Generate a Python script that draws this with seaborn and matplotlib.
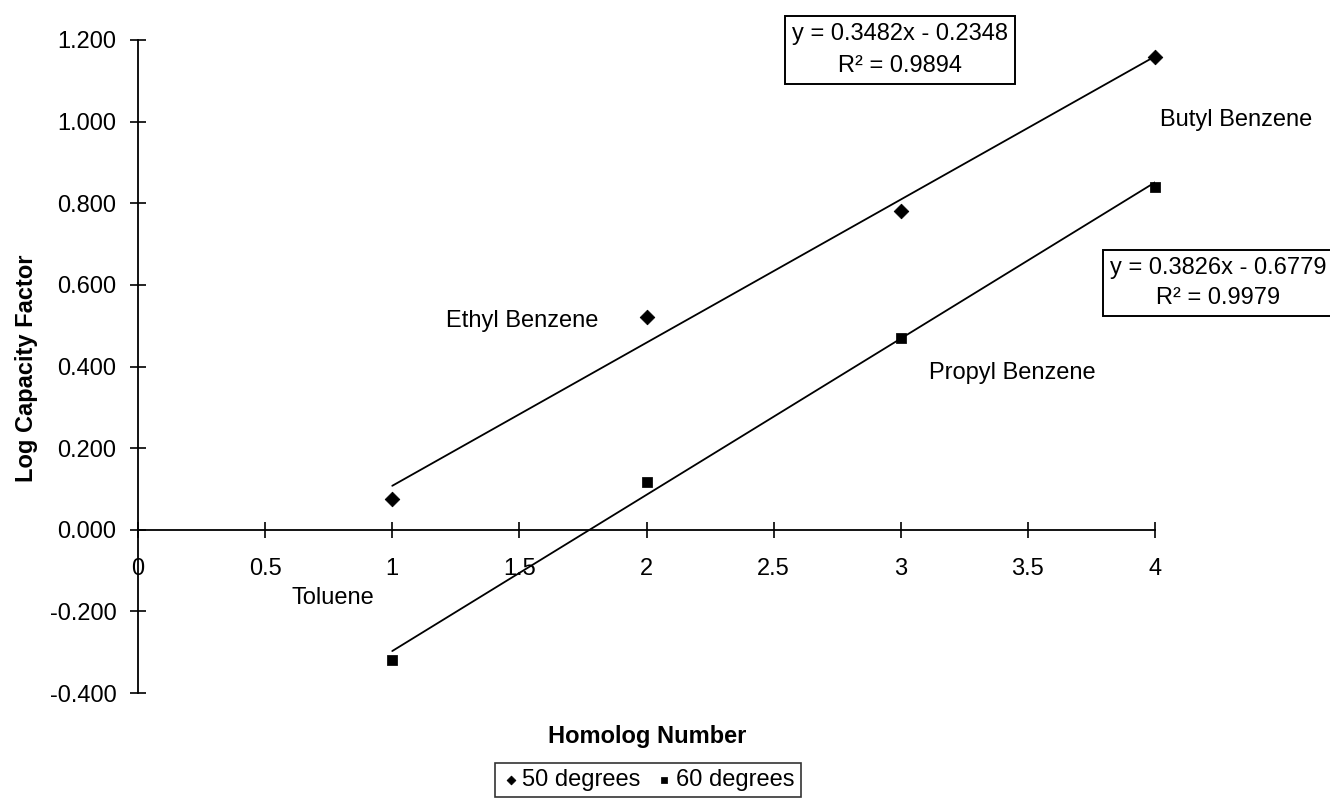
import matplotlib
matplotlib.use('Agg')
import matplotlib.pyplot as plt
import seaborn as sns

homolog = [1, 2, 3, 4]
deg50 = [0.075, 0.522, 0.780, 1.158]
deg60 = [-0.318, 0.116, 0.470, 0.840]
compound_names = ['Toluene', 'Ethyl Benzene', 'Propyl Benzene', 'Butyl Benzene']
eq50 = 'y = 0.3482x - 0.2348\nR² = 0.9894'
eq60 = 'y = 0.3826x - 0.6779\nR² = 0.9979'
xticks = [0, 0.5, 1, 1.5, 2, 2.5, 3, 3.5, 4]
yticks = [-0.4, -0.2, 0.0, 0.2, 0.4, 0.6, 0.8, 1.0, 1.2]

sns.set_style('white')
plt.rcParams['font.family'] = ['Liberation Sans', 'DejaVu Sans']
plt.rcParams['text.color'] = 'black'
plt.rcParams['axes.labelcolor'] = 'black'
fs = 17

W, H = 1330, 801
fig = plt.figure(figsize=(W / 100, H / 100), dpi=100)
ax = fig.add_axes([138 / W, (H - 693) / H, 1017 / W, 653 / H])

# trend lines
sns.regplot(x=homolog, y=deg50, ci=None, scatter=False, truncate=True,
            line_kws=dict(color='black', lw=1.3), ax=ax)
sns.regplot(x=homolog, y=deg60, ci=None, scatter=False, truncate=True,
            line_kws=dict(color='black', lw=1.3), ax=ax)

# points
sns.scatterplot(x=homolog, y=deg50, marker='D', color='black', s=55,
                edgecolor='black', label='50 degrees', clip_on=False, zorder=5, ax=ax)
sns.scatterplot(x=homolog, y=deg60, marker='s', color='black', s=45,
                edgecolor='black', label='60 degrees', clip_on=False, zorder=5, ax=ax)

ax.set_xlim(0, 4)
ax.set_ylim(-0.4, 1.2)
ax.set_xticks(xticks)
ax.set_xticklabels(['%g' % t for t in xticks])
ax.set_yticks(yticks)
ax.set_yticklabels(['%.3f' % t for t in yticks])
ax.spines['top'].set_visible(False)
ax.spines['right'].set_visible(False)
ax.spines['bottom'].set_position(('data', 0))
for s in ['left', 'bottom']:
    ax.spines[s].set_color('black')
    ax.spines[s].set_linewidth(1.3)
ax.tick_params(axis='x', bottom=True, direction='inout', length=11, width=1.2, pad=15,
               labelsize=fs, colors='black')
ax.tick_params(axis='y', left=True, direction='inout', length=11, width=1.2, pad=10,
               labelsize=fs, colors='black')
ax.set_xlabel('')
ax.set_ylabel('')
ax.patch.set_alpha(0)

# compound labels
label_pos = [(0.767, -0.168), (1.51, 0.512), (3.44, 0.385), (4.32, 1.005)]
for name, (lx, ly) in zip(compound_names, label_pos):
    ax.text(lx, ly, name, ha='center', va='center', fontsize=fs, color='black', clip_on=False)

# equation boxes
box = dict(boxstyle='square,pad=0.3', fc='white', ec='black', lw=1.4)
fig.text(900 / W, 1 - 50 / H, eq50, ha='center', va='center', multialignment='center',
         fontsize=fs, linespacing=1.6, bbox=box)
fig.text(1110 / W, 1 - 283 / H, eq60, ha='left', va='center', multialignment='center',
         fontsize=fs, linespacing=1.5, bbox=box)

# axis titles
fig.text(27 / W, 1 - 368 / H, 'Log Capacity Factor', rotation=90, ha='center', va='center',
         fontsize=fs, fontweight='bold')
fig.text(647 / W, 1 - 737 / H, 'Homolog Number', ha='center', va='center',
         fontsize=fs, fontweight='bold')

handles, labels = ax.get_legend_handles_labels()
ax.get_legend().remove()
leg = fig.legend(handles, labels, loc='upper center', bbox_to_anchor=(648 / W, 1 - 763 / H),
                 borderaxespad=0, ncol=2, frameon=True, fancybox=False, edgecolor='black',
                 fontsize=fs, handletextpad=0.1, columnspacing=0.6, borderpad=0.25,
                 handlelength=0.8, markerscale=0.6)
leg.get_frame().set_linewidth(1.2)

fig.savefig('out.png', dpi=100)
